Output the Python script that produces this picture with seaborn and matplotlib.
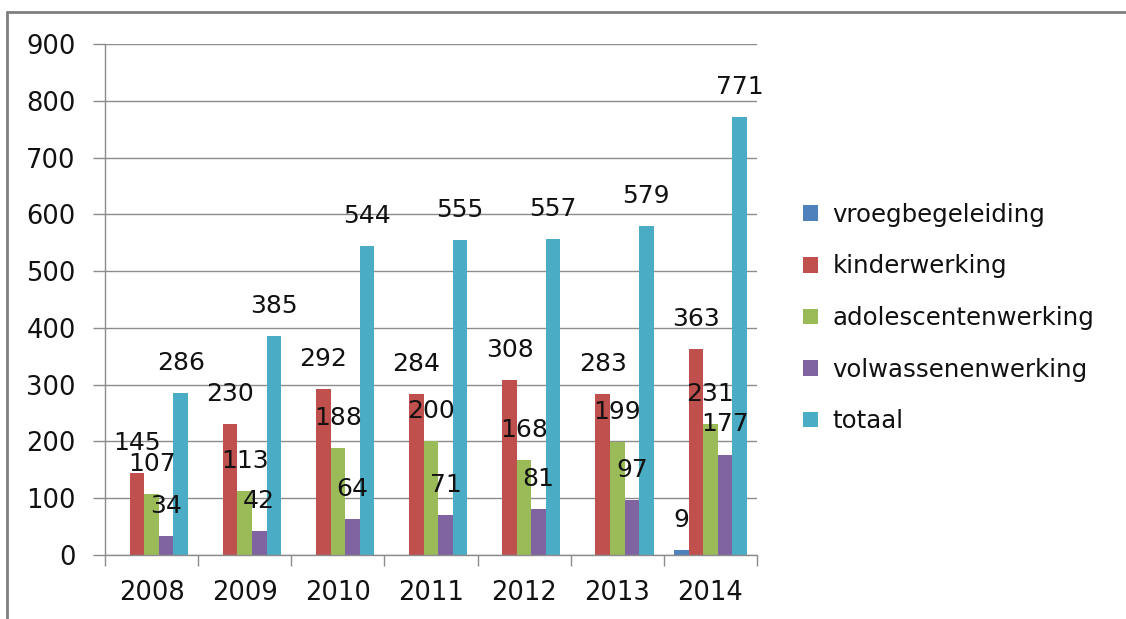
import pandas as pd
import matplotlib
matplotlib.use('Agg')
import matplotlib.pyplot as plt
import seaborn as sns
from matplotlib.lines import Line2D
from matplotlib.ticker import MultipleLocator, FixedLocator

# Gegevens
jaren = ['2008', '2009', '2010', '2011', '2012', '2013', '2014']
vroegbegeleiding = [0, 0, 0, 0, 0, 0, 9]
kinderwerking = [145, 230, 292, 284, 308, 283, 363]
adolescentenwerking = [107, 113, 188, 200, 168, 199, 231]
volwassenenwerking = [34, 42, 64, 71, 81, 97, 177]
totaal = [286, 385, 544, 555, 557, 579, 771]

reeksen = ['vroegbegeleiding', 'kinderwerking', 'adolescentenwerking',
           'volwassenenwerking', 'totaal']
waarden = [vroegbegeleiding, kinderwerking, adolescentenwerking,
           volwassenenwerking, totaal]
kleuren = ['#4F81BD', '#C0504D', '#9BBB59', '#8064A2', '#4BACC6']

rijen = []
for naam, reeks in zip(reeksen, waarden):
    for jaar, w in zip(jaren, reeks):
        rijen.append({'jaar': jaar, 'reeks': naam, 'aantal': w})
df = pd.DataFrame(rijen)

sns.set_style('white')
plt.rcParams['font.family'] = ['DejaVu Sans']

fig = plt.figure(figsize=(11.26, 6.19), dpi=100)
ax = fig.add_axes([105 / 1126, 1 - 555 / 619, (757 - 105) / 1126, (555 - 44) / 619])

sns.barplot(data=df, x='jaar', y='aantal', hue='reeks', hue_order=reeksen,
            palette=kleuren, width=0.78, ax=ax, saturation=1, legend=True,
            linewidth=0, edgecolor='none')

# Labels boven de staven (nullen weglaten)
for cont in ax.containers:
    labels = ['' if v == 0 else f'{v:.0f}' for v in cont.datavalues]
    ax.bar_label(cont, labels=labels, padding=13, fontsize=18, color='#111111')

ax.set_ylim(0, 900)
ax.set_xlim(-0.5, 6.5)
ax.yaxis.set_major_locator(MultipleLocator(100))
ax.grid(axis='y', color='#8c8c8c', linewidth=1)
ax.set_axisbelow(True)
ax.set_xlabel('')
ax.set_ylabel('')

for kant in ['top', 'right']:
    ax.spines[kant].set_visible(False)
for kant in ['left', 'bottom']:
    ax.spines[kant].set_color('#8c8c8c')
    ax.spines[kant].set_linewidth(1)

ax.tick_params(axis='y', length=9, width=1, color='#8c8c8c', pad=12,
               labelsize=18.5, labelcolor='#111111', left=True)
ax.tick_params(axis='x', which='major', length=0, pad=18, labelsize=18.5,
               labelcolor='#111111')
ax.xaxis.set_minor_locator(FixedLocator([i - 0.5 for i in range(len(jaren) + 1)]))
ax.tick_params(axis='x', which='minor', length=8, width=1, color='#8c8c8c',
               bottom=True, direction='out')

# Legenda rechts
handles, labels = ax.get_legend_handles_labels()
ax.get_legend().remove()
fig.legend(handles, labels, loc='center left',
           bbox_to_anchor=(781 / 1126, 1 - 318 / 619), frameon=False,
           fontsize=17.6, handlelength=0.6, handleheight=0.6,
           handletextpad=0.6, labelspacing=1.13, labelcolor='#111111')

# Kader rond de grafiek
fig.add_artist(Line2D([7 / 1126, 1], [1 - 12 / 619, 1 - 12 / 619],
                      color='#7f7f7f', linewidth=2, transform=fig.transFigure))
fig.add_artist(Line2D([7 / 1126, 7 / 1126], [0, 1 - 12 / 619],
                      color='#7f7f7f', linewidth=2, transform=fig.transFigure))

fig.savefig('out.png', dpi=100)
